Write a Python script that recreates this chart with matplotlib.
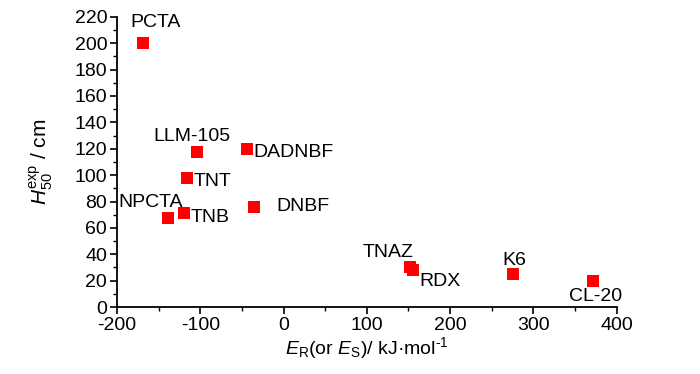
import matplotlib.pyplot as plt
from matplotlib.ticker import MultipleLocator

# compounds and values
NAMES = ["PCTA", "LLM-105", "DADNBF", "TNT", "NPCTA", "TNB", "DNBF",
         "TNAZ", "RDX", "K6", "CL-20"]
E_R = [-169, -104, -44, -116, -139, -120, -36, 152, 156, 275, 372]
H50 = [200, 117.5, 120, 98, 67.5, 71.5, 76, 30, 28, 25, 20]

# label anchor (x, y, ha) in data units
LABEL_X = [-154, -110, -36, -108, -159, -111, -8, 126, 163, 277, 375]
LABEL_Y = [216, 129, 117.5, 95.5, 79.5, 68, 76, 41, 19.5, 35.5, 8]
LABEL_HA = ["center", "center", "left", "left", "center", "left", "left",
            "center", "left", "center", "center"]

plt.rcParams.update({
    "font.family": ["Liberation Sans", "DejaVu Sans"],
    "font.size": 14,
    "axes.unicode_minus": False,
    "mathtext.fontset": "custom",
    "mathtext.rm": "Liberation Sans",
    "mathtext.it": "Liberation Sans:italic",
})

fig = plt.figure(figsize=(7.0, 3.74), dpi=100)
ax = fig.add_axes([0.167, 0.179, 0.714, 0.776])

ax.scatter(E_R, H50, marker="s", s=75, color="#ff0000", linewidths=0, zorder=3)
for name, x, y, ha in zip(NAMES, LABEL_X, LABEL_Y, LABEL_HA):
    ax.text(x, y, name, ha=ha, va="center", fontsize=14)

ax.set_xlim(-200, 400)
ax.set_ylim(0, 220)
ax.xaxis.set_major_locator(MultipleLocator(100))
ax.xaxis.set_minor_locator(MultipleLocator(50))
ax.yaxis.set_major_locator(MultipleLocator(20))
ax.yaxis.set_minor_locator(MultipleLocator(10))

for side in ("top", "right"):
    ax.spines[side].set_visible(False)
for side in ("left", "bottom"):
    ax.spines[side].set_linewidth(1.3)
ax.tick_params(which="major", direction="out", length=5, width=1.2, pad=2)
ax.tick_params(which="minor", direction="out", length=3, width=1.0)

ax.set_xlabel(r"$\mathit{E}_{\mathrm{R}}$(or $\mathit{E}_{\mathrm{S}}$)/ kJ·mol$^{\text{-1}}$", labelpad=1)
ax.set_ylabel(r"$\mathit{H}_{\mathrm{50}}^{\mathrm{exp}}$ / cm", fontsize=15, labelpad=14)

fig.savefig("out.png", dpi=100)
